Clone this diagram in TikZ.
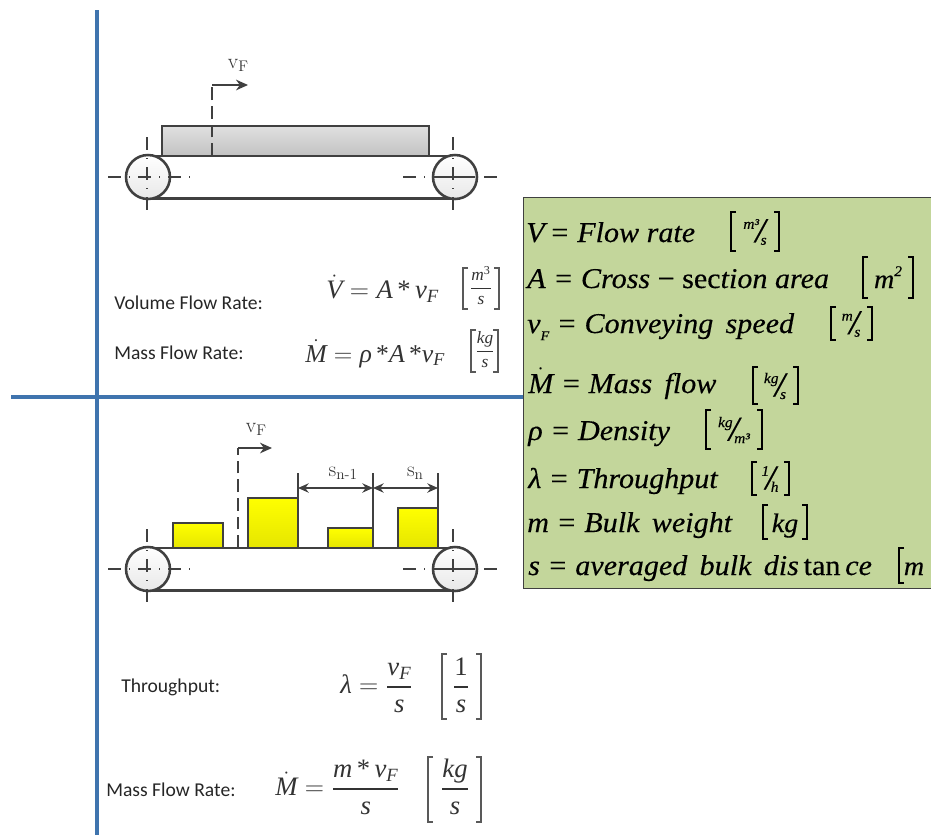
\documentclass[tikz,border=0pt]{standalone}
\usepackage{amsmath}
\usepackage{fix-cm}
\usepackage{fontspec}
\usetikzlibrary{arrows.meta}
\newfontfamily\tms{Liberation Serif}
\newfontfamily\legfont[FakeStretch=1.05,FakeBold=0.35]{Liberation Serif}
\newfontfamily\calfont{Carlito}
\definecolor{ink}{HTML}{404040}
\definecolor{bluebar}{HTML}{3F74AE}
\definecolor{greenbox}{HTML}{C3D69B}
\newcommand{\mi}[1]{\text{\tms\itshape #1}}
\newcommand{\mr}[1]{\text{\tms #1}}
\newcommand{\vFs}{\mi{v}_{\mi{F}}}
\newcommand{\lmsub}[2]{#1\raisebox{-.14em}{\fontsize{11.5}{12}\selectfont #2}}
\newcommand{\sfr}[2]{\raisebox{.5em}{\fontsize{11}{12}\selectfont #1}\kern-.14em{\fontsize{26}{26}\selectfont /}\kern-.18em\raisebox{-.1em}{\fontsize{11}{12}\selectfont #2}}
\tikzset{
  x=.75pt,y=-.75pt,
  panelbar/.style={bluebar,line width=2.3pt},
  beltline/.style={ink,line width=1.9pt},
  center line/.style={ink,line width=.8pt,dash pattern=on 9.75pt off 6pt on .75pt off 6pt},
  thin edge/.style={ink,line width=1pt},
  dimline/.style={ink,line width=.9pt},
  dashline/.style={ink,line width=.9pt,dash pattern=on 9.5pt off 4.5pt},
  speedarrow/.style={ink,line width=1.2pt,-{Stealth[length=9pt,width=8pt]}},
  dimarrow/.style={ink,line width=1.2pt,{Stealth[length=8pt,width=7pt]}-{Stealth[length=8pt,width=7pt]}},
  plainlabel/.style={inner sep=0,anchor=west,font=\calfont\fontsize{14.7}{16}\selectfont,text=black!85},
  formula/.style={inner sep=0,anchor=base west,font=\tms\fontsize{20}{24}\selectfont,text=black!80},
  formula tight/.style={formula,font=\tms\fontsize{19.3}{24}\selectfont},
  smallunit/.style={inner sep=0,anchor=base,font=\tms\fontsize{13}{15}\selectfont,text=black!80},
  bigunit/.style={inner sep=0,anchor=base,font=\tms\fontsize{20}{24}\selectfont,text=black!80},
  legendline/.style={inner sep=0,anchor=base west,font=\legfont\fontsize{21.5}{24}\selectfont\itshape,text=black},
  legendunit/.style={inner sep=0,anchor=center,font=\legfont\fontsize{20}{24}\selectfont\itshape,text=black},
  legendbase/.style={legendunit,anchor=base},
  mark label/.style={inner sep=0,anchor=center,font=\fontsize{16}{18}\selectfont,text=black!80},
  graybox/.style={thin edge,top color=black!12,bottom color=black!24},
  yellowbox/.style={ink,line width=1pt,top color=yellow,bottom color=yellow!90!black},
  roller/.style={beltline,top color=white,bottom color=black!9},
  brk/.style={black,line width=1.2pt},
  fbrk/.style={black!65,line width=1pt},
  pics/conveyor/.style={code={
    \draw[beltline] (148,-21)--(455,-21) (148,21.5)--(455,21.5);
    \draw[roller] (148,0) circle[radius=22];
    \draw[roller] (455,0) circle[radius=22];
    \draw[center line] (147,-40)--(147,33);
    \draw[center line] (453,-40)--(453,33);
    \draw[center line] (108,0)--(192,0);
    \draw[center line] (403,0)--(432,0);
    \draw[ink,line width=.8pt] (433,0)--(475,0);
    \draw[center line] (484,0)--(500,0);
  }}
}
\newcommand{\brackets}[5][brk]{%
  \draw[#1] (#2+5,#4)--(#2,#4)--(#2,#5)--(#2+5,#5);
  \draw[#1] (#3-5,#4)--(#3,#4)--(#3,#5)--(#3-5,#5);}
\begin{document}
\begin{tikzpicture}
\useasboundingbox (0,0) rectangle (931,835);
% panel rules
\coordinate (vtop) at (97,10); \coordinate (vbot) at (97,835);
\coordinate (hl) at (11,397); \coordinate (hr) at (523,397);
% top conveyor
\filldraw[graybox] (162,156) rectangle (429,126);
\pic at (0,177) {conveyor};
\coordinate (c1) at (212,156); \coordinate (c2) at (212,85); \coordinate (c3) at (248,85);
\draw[dashline] (c1)--(c2);
\draw[speedarrow] (c2)--(c3);
\node[mark label] (vf1) at (238,65) {\lmsub{v}{F}};
% bottom conveyor
\filldraw[yellowbox] (173,548) rectangle (223,523);
\filldraw[yellowbox] (248,548) rectangle (298,498);
\filldraw[yellowbox] (328,548) rectangle (373,528);
\filldraw[yellowbox] (398,548) rectangle (438,508);
\pic at (0,569) {conveyor};
\coordinate (d1) at (238,548); \coordinate (d2) at (238,448); \coordinate (d3) at (272,448);
\draw[dashline] (d1)--(d2);
\draw[speedarrow] (d2)--(d3);
\node[mark label] (vf2) at (256,429) {\lmsub{v}{F}};
\coordinate (e1) at (298,498); \coordinate (e1t) at (298,473);
\coordinate (e2) at (373,528); \coordinate (e2t) at (373,473);
\coordinate (e3) at (438,508); \coordinate (e3t) at (438,473);
\draw[dimline] (e1)--(e1t) (e2)--(e2t) (e3)--(e3t);
\coordinate (a1) at (298,488); \coordinate (a2) at (373,488); \coordinate (a3) at (438,488);
\draw[dimarrow] (a1)--(a2);
\draw[dimarrow] (a2)--(a3);
\node[mark label] (sn1) at (343,473) {\lmsub{s}{n-1}};
\node[mark label] (sn) at (415,473) {\lmsub{s}{n}};
% rules on top
\draw[panelbar] (vtop)--(vbot);
\draw[panelbar] (hl)--(hr);
% green legend
\node[draw=black!75,line width=.9pt,fill=greenbox,inner sep=0,anchor=north west,
  minimum width=306pt,minimum height=293pt] (legendbox) at (523,197) {};
\node[legendline] (l1) at (526,242) {V\,= Flow rate};
\brackets{731}{779}{212}{251}
\node[legendunit] (l1u) at (755,232) {\sfr{m³}{s}};
\node[legendline] (l2) at (527,288) {A = Cross {\upshape − sec}tion area};
\brackets{863}{913}{257}{298}
\node[legendbase] (l2u) at (888,288) {m\raisebox{.45em}{\fontsize{11}{12}\selectfont 2}};
\node[legendline] (l3) at (527,333) {v\raisebox{-.25em}{\fontsize{10}{10}\selectfont F} = Conveying\, speed};
\brackets{831}{872}{307}{340}
\node[legendunit] (l3u) at (851,324) {\sfr{m}{s}};
\node[legendline] (l4) at (528,393) {$\dot{\text{\legfont\itshape M}}$ = Mass\, flow};
\brackets{753}{798}{367}{404}
\node[legendunit] (l4u) at (775,386) {\sfr{kg}{s}};
\node[legendline] (l5) at (528,440) {ρ = Density};
\brackets{706}{762}{410}{449}
\node[legendunit] (l5u) at (734,430) {\sfr{kg}{m³}};
\node[legendline] (l6) at (528,488) {λ = Throughput};
\brackets{752}{789}{462}{495}
\node[legendunit] (l6u) at (770,479) {\sfr{1}{h}};
\node[legendline] (l7) at (527,532) {m = Bulk\, weight};
\brackets{763}{807}{505}{539}
\node[legendbase] (l7u) at (785,532) {kg};
\node[legendline] (l8) at (528,575) {s = averaged\, bulk\, dis{\upshape\,tan\,}ce};
\brackets{899}{936}{548}{583}
\node[legendbase] (l8u) at (914,575) {m};
% formulas
\node[plainlabel] (t1) at (114,303) {Volume Flow Rate:};
\node[formula] (f1) at (326,298) {$\dot{\mi{V}}=\mi{A}\,\mr{*}\,\vFs$};
\brackets[fbrk]{463}{499}{268}{309}
\node[smallunit] (u1) at (481,292.3) {$\dfrac{\mi{m}^{\mr{3}}}{\mi{s}}$};
\node[plainlabel] (t2) at (114,353) {Mass Flow Rate:};
\node[formula tight] (f2) at (305,362) {$\dot{\mi{M}}=\mi{ρ}\,\mr{*}\mi{A}\,\mr{*}\vFs$};
\brackets[fbrk]{471}{498}{330}{372}
\node[smallunit] (u2) at (485,355.3) {$\dfrac{\mi{kg}}{\mi{s}}$};
\node[plainlabel] (t3) at (121,687) {Throughput:};
\node[formula] (f3) at (340,693.7) {$\mi{λ}=\dfrac{\vFs}{\mi{s}}$};
\brackets[fbrk]{442}{481}{654}{719}
\node[bigunit] (u3) at (461,693.7) {$\dfrac{\mr{1}}{\mi{s}}$};
\node[plainlabel] (t4) at (106,790) {Mass Flow Rate:};
\node[formula] (f4) at (275,795.7) {$\dot{\mi{M}}=\dfrac{\mi{m}\,\mr{*}\,\vFs}{\mi{s}}$};
\brackets[fbrk]{428}{481}{757}{822}
\node[bigunit] (u4) at (455,795.7) {$\dfrac{\mi{kg}}{\mi{s}}$};
\end{tikzpicture}
\end{document}
